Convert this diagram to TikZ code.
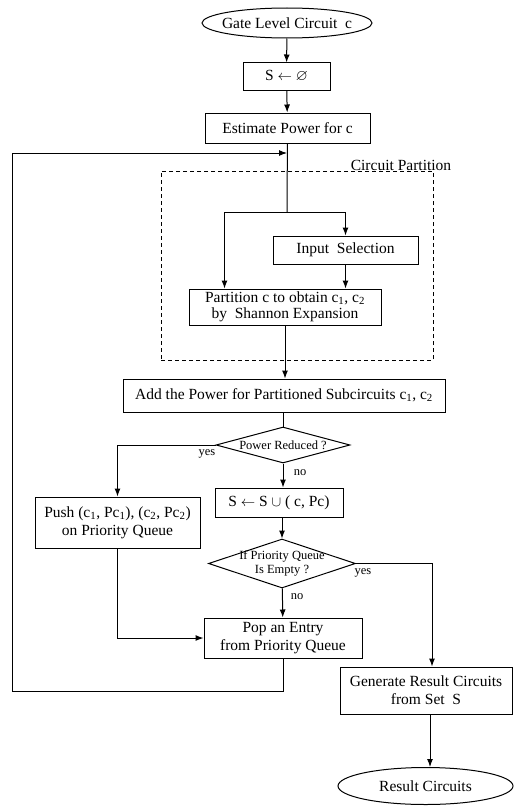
\documentclass[tikz,border=0pt]{standalone}
\usepackage{amssymb}
\usepackage{fontspec}
\setmainfont{Liberation Serif}
\usetikzlibrary{shapes.geometric,arrows.meta}
\def\nb#1{\makebox[40pt]{#1}}
\def\sub#1{\textsubscript{#1}}

\begin{document}
\begin{tikzpicture}[x=1pt,y=-1pt,line width=1pt,
  >={Latex[length=8pt,width=6pt]},
  box/.style={draw,rectangle,inner sep=0pt,align=center,font=\fontsize{15.5}{18}\selectfont},
  term/.style={draw,ellipse,inner sep=0pt,font=\fontsize{15.5}{18}\selectfont},
  test/.style={draw,diamond,inner sep=0pt,aspect=3,font=\fontsize{12.5}{14}\selectfont},
  lbl/.style={inner sep=0pt,font=\fontsize{12.5}{14}\selectfont}]
  \useasboundingbox (0,0) rectangle (530,808);
  \node[term,minimum width=170,minimum height=30] (gate) at (287,23) {\nb{Gate Level Circuit\ \ c}};
  \node[box,minimum width=87,minimum height=27] (empty) at (286.5,76.5) {S $\leftarrow$ $\varnothing$};
  \node[box,minimum width=165,minimum height=30] (estimate) at (287.5,128) {Estimate Power for c};
  % circuit partition block
  \node[draw,dashed,line width=0.7pt,dash pattern=on 4pt off 3pt,minimum width=272,minimum height=189,inner sep=0pt] (part) at (297,265.5) {};
  \node[inner sep=0pt,font=\fontsize{15.5}{18}\selectfont] (cplabel) at (401,165) {Circuit Partition};
  \node[box,minimum width=145,minimum height=28] (input) at (345.5,250) {Input\ \ Selection};
  \node[box,minimum width=192,minimum height=36,font=\fontsize{15.5}{16.5}\selectfont] (partition) at (285,307) {Partition c to obtain c\sub{1}, c\sub{2}\\by\ \ Shannon Expansion};
  \node[box,minimum width=322,minimum height=33] (add) at (284,395.5) {Add the Power for Partitioned Subcircuits c\sub{1}, c\sub{2}};
  \node[test,minimum width=134,minimum height=36] (power) at (283,445) {\nb{\raisebox{-2pt}{Power Reduced ?}}};
  \node[box,minimum width=165,minimum height=51] (push) at (117.5,522.5) {Push (c\sub{1}, Pc\sub{1}), (c\sub{2}, Pc\sub{2})\\on Priority Queue};
  \node[box,minimum width=128,minimum height=29] (sunion) at (279,502.5) {S $\leftarrow$ S $\cup$ ( c, Pc)};
  \node[test,minimum width=147,minimum height=49] (isempty) at (282,563.5) {\nb{\raisebox{-4pt}{\begin{tabular}{@{}c@{}}If Priority Queue\\Is Empty ?\end{tabular}}}};
  \node[box,minimum width=158,minimum height=40] (pop) at (283,638) {Pop an Entry\\from Priority Queue};
  \node[box,minimum width=172,minimum height=47] (generate) at (426,690.5) {Generate Result Circuits\\from Set\ \ S};
  \node[term,minimum width=175,minimum height=37] (result) at (425.5,786) {\nb{Result Circuits}};
  \node[lbl] (yes1) at (207,454) {yes};
  \node[lbl] (no1) at (300,473) {no};
  \node[lbl] (yes2) at (363,573) {yes};
  \node[lbl] (no2) at (297,597) {no};
  \coordinate (join) at (287,153);
  \coordinate (split) at (287,212);
  \coordinate (back) at (12,691);
  % connectors
  \draw[->] (gate) -- (empty);
  \draw[->] (empty) -- (estimate);
  \draw (estimate) -- (split);
  \draw[->] (split) -| ([xshift=36]partition.north west);
  \draw[->] (split) -| (input);
  \draw[->] (input) -- (input |- partition.north);
  \draw[->] (partition.south) -- (partition.south |- add.north);
  \draw (add.south -| power) -- (power);
  \draw[->] (power.west) -| (push);
  \draw[->] (power) -- (power |- sunion.north);
  \draw[->] (isempty |- sunion.south) -- (isempty);
  \draw[->] (isempty.east) -| ([xshift=6]generate.north);
  \draw[->] (isempty) -- (pop);
  \draw[->] (push) |- (pop);
  \draw[->] (pop) |- (back) |- (join);
  \draw[->] ([xshift=4]generate.south) -- ([xshift=4]generate.south |- result.north);
\end{tikzpicture}
\end{document}
